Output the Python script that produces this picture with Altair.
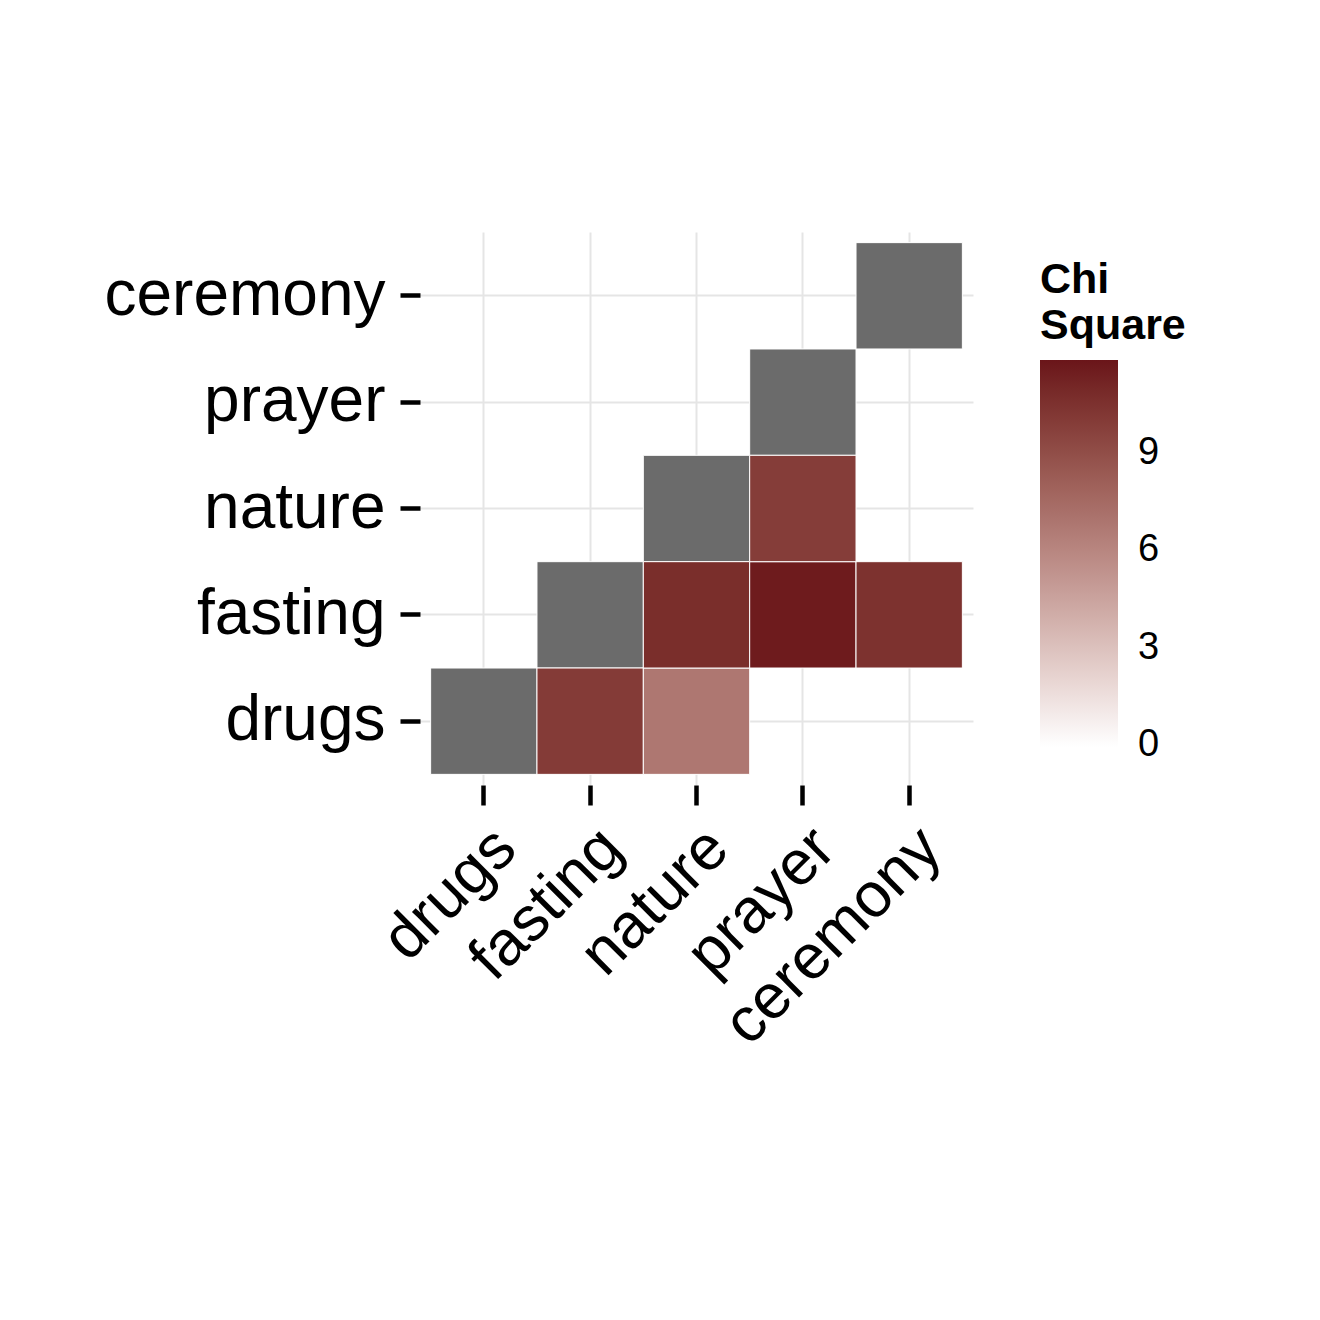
import altair as alt
import pandas as pd

cats = ["drugs", "fasting", "nature", "prayer", "ceremony"]

# lower-triangle cells with a chi-square value
x_var = ["fasting", "nature", "nature", "prayer", "ceremony", "prayer"]
y_var = ["drugs", "drugs", "fasting", "fasting", "fasting", "nature"]
chi = [10.0, 6.8, 10.7, 11.6, 10.5, 9.9]

# diagonal cells (no value, drawn grey)
diag = cats

df = pd.DataFrame({"x": x_var, "y": y_var, "chi": chi})
df_diag = pd.DataFrame({"x": diag, "y": diag})

FONT = "Liberation Sans"

xscale = alt.Scale(domain=cats, paddingInner=0, paddingOuter=0.1)
yscale = alt.Scale(domain=cats[::-1], paddingInner=0, paddingOuter=0.1)

xaxis = alt.Axis(title=None, labelAngle=-45, labelAlign="right", labelBaseline="top",
                 labelFontSize=63, labelFont=FONT, labelColor="black", labelLimit=600,
                 tickSize=20, tickWidth=4.5, tickColor="black", labelPadding=11,
                 domain=False, grid=True, gridColor="#E5E5E5", gridWidth=2,
                 bandPosition=0.5, tickExtra=False, zindex=0)
yaxis = alt.Axis(title=None, labelFontSize=64, labelFont=FONT, labelColor="black",
                 labelLimit=600,
                 tickSize=20, tickWidth=4.5, tickColor="black", labelPadding=15,
                 domain=False, grid=True, gridColor="#E5E5E5", gridWidth=2,
                 bandPosition=0.5, tickExtra=False, zindex=0)

grey = alt.Chart(df_diag).mark_rect(color="#6B6B6B", stroke="white", strokeWidth=1).encode(
    x=alt.X("x:N", scale=xscale, axis=xaxis, sort=cats),
    y=alt.Y("y:N", scale=yscale, axis=yaxis, sort=cats[::-1]),
)

tiles = alt.Chart(df).mark_rect(stroke="white", strokeWidth=1).encode(
    x=alt.X("x:N", scale=xscale, axis=xaxis, sort=cats),
    y=alt.Y("y:N", scale=yscale, axis=yaxis, sort=cats[::-1]),
    color=alt.Color(
        "chi:Q",
        scale=alt.Scale(domain=[-0.06, 11.87], range=["#FFFFFF", "#6A1519"], interpolate="lab"),
        legend=alt.Legend(
            title=["Chi", "Square"], titleFont=FONT, titleFontSize=43, titleFontWeight="bold",
            titleColor="black", titleLineHeight=46, titlePadding=12, titleAlign="left",
            labelFont=FONT, labelFontSize=38, labelColor="black", labelOffset=20,
            labelBaseline="middle",
            values=[0, 3, 6, 9], gradientLength=387, gradientThickness=78,
            gradientStrokeWidth=0, orient="none", legendX=620, legendY=27,
            direction="vertical",
        ),
    ),
)

chart = (
    alt.layer(grey, tiles)
    .properties(width=553, height=553,
                view=alt.ViewBackground(strokeWidth=0, stroke="transparent"),
                autosize=alt.AutoSizeParams(type="none"),
                padding={"left": 420, "top": 232, "right": 347, "bottom": 535})
    .configure_view(strokeWidth=0, stroke="transparent")
    .configure(background="white")
)

chart.save("out.html", embed_options={"renderer": "svg", "actions": False})
